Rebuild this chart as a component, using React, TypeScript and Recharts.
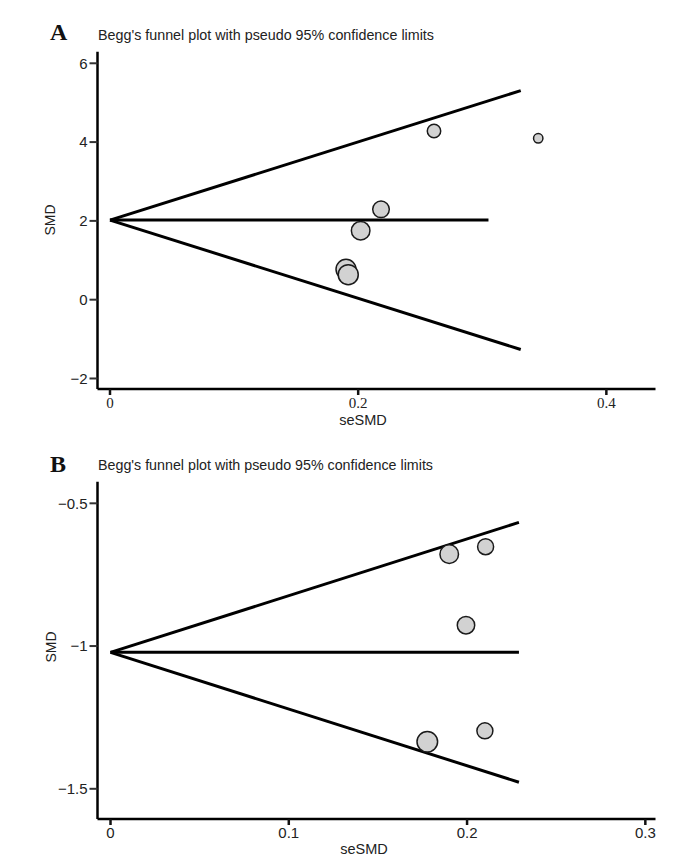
import React from 'react';
import { ScatterChart, Scatter, XAxis, YAxis, ZAxis, ReferenceLine } from 'recharts';

// ---------- Panel A data ----------
const seA = [0.2611, 0.3451, 0.2184, 0.202, 0.1902, 0.192];
const smdA = [4.282, 4.096, 2.294, 1.751, 0.772, 0.635];
const weightA = [45, 22, 69, 86, 100, 100];
const xTicksA = [0, 0.2, 0.4];
const yTicksA = [-2, 0, 2, 4, 6];
const pooledA = 2.02;
const limitSeA = 0.331;
const upperEndA = 5.305;
const lowerEndA = -1.265;
const pooledLineEndA = 0.305;

// ---------- Panel B data ----------
const seB = [0.19, 0.2104, 0.1994, 0.1777, 0.21];
const smdB = [-0.678, -0.652, -0.927, -1.335, -1.297];
const weightB = [86, 64, 76, 106, 64];
const xTicksB = [0, 0.1, 0.2, 0.3];
const yTicksB = [-1.5, -1, -0.5];
const pooledB = -1.022;
const limitSeB = 0.2291;
const upperEndB = -0.567;
const lowerEndB = -1.477;
const pooledLineEndB = 0.2291;

const title = "Begg's funnel plot with pseudo 95% confidence limits";

const SANS = '"Liberation Sans", Arial, sans-serif';
const SERIF = '"Liberation Serif", "Times New Roman", serif';

const fmt = (v: number) => String(v).replace('-', '\u2212');

const dataA = seA.map((s, i) => ({ se: s, smd: smdA[i], w: weightA[i] }));
const dataB = seB.map((s, i) => ({ se: s, smd: smdB[i], w: weightB[i] }));

type PanelProps = {
  data: { se: number; smd: number; w: number }[];
  xDomain: [number, number];
  yDomain: [number, number];
  xTicks: number[];
  yTicks: number[];
  pooled: number;
  limitSe: number;
  upperEnd: number;
  lowerEnd: number;
  pooledEnd: number;
  xFont: string;
  xFontSize: number;
};

const Panel = (p: PanelProps) => (
  <ScatterChart
    width={688}
    height={429}
    margin={{ top: 51.7, right: 32.5, bottom: 10, left: 0 }}
  >
    <XAxis
      type="number"
      dataKey="se"
      domain={p.xDomain}
      ticks={p.xTicks}
      allowDataOverflow
      height={30}
      axisLine={{ stroke: '#000', strokeWidth: 2.5 }}
      tickLine={{ stroke: '#111', strokeWidth: 2.5 }}
      tickSize={6}
      tickMargin={2}
      tick={{ fill: '#222', fontSize: p.xFontSize, fontFamily: p.xFont }}
      tickFormatter={fmt}
    />
    <YAxis
      type="number"
      dataKey="smd"
      domain={p.yDomain}
      ticks={p.yTicks}
      allowDataOverflow
      width={97.5}
      axisLine={{ stroke: '#000', strokeWidth: 2.5 }}
      tickLine={{ stroke: '#333', strokeWidth: 2 }}
      tickSize={8}
      tickMargin={2}
      tick={{ fill: '#222', fontSize: 15, fontFamily: SANS }}
      tickFormatter={fmt}
    />
    <ZAxis type="number" dataKey="w" domain={[0, 120]} range={[0, 120 * Math.PI]} />
    <ReferenceLine
      segment={[{ x: 0, y: p.pooled }, { x: p.limitSe, y: p.upperEnd }]}
      stroke="#000"
      strokeWidth={3}
      ifOverflow="visible"
    />
    <ReferenceLine
      segment={[{ x: 0, y: p.pooled }, { x: p.limitSe, y: p.lowerEnd }]}
      stroke="#000"
      strokeWidth={3}
      ifOverflow="visible"
    />
    <ReferenceLine
      segment={[{ x: 0, y: p.pooled }, { x: p.pooledEnd, y: p.pooled }]}
      stroke="#000"
      strokeWidth={3}
      ifOverflow="visible"
    />
    <Scatter
      data={p.data}
      fill="#d2d2d2"
      stroke="#1a1a1a"
      strokeWidth={1.5}
      isAnimationActive={false}
    />
  </ScatterChart>
);

export default function App() {
  return (
    <div style={{ position: 'absolute', left: 0, top: 0, width: 688, height: 859, background: '#fff' }}>
      <div style={{ position: 'absolute', left: 0, top: 0 }}>
        <Panel
          data={dataA}
          xDomain={[-0.01007, 0.4396]}
          yDomain={[-2.267, 6.294]}
          xTicks={xTicksA}
          yTicks={yTicksA}
          pooled={pooledA}
          limitSe={limitSeA}
          upperEnd={upperEndA}
          lowerEnd={lowerEndA}
          pooledEnd={pooledLineEndA}
          xFont={SERIF}
          xFontSize={15}
        />
      </div>
      <div style={{ position: 'absolute', left: 0, top: 430 }}>
        <Panel
          data={dataB}
          xDomain={[-0.0073, 0.3057]}
          yDomain={[-1.6058, -0.4243]}
          xTicks={xTicksB}
          yTicks={yTicksB}
          pooled={pooledB}
          limitSe={limitSeB}
          upperEnd={upperEndB}
          lowerEnd={lowerEndB}
          pooledEnd={pooledLineEndB}
          xFont={SANS}
          xFontSize={15}
        />
      </div>
      <svg
        width={688}
        height={859}
        style={{ position: 'absolute', left: 0, top: 0, pointerEvents: 'none' }}
      >
        <text x={50} y={40} fontFamily={SERIF} fontWeight="bold" fontSize={24} fill="#111">A</text>
        <text x={98} y={40} fontFamily={SANS} fontSize={15} fill="#222" textLength={336} lengthAdjust="spacingAndGlyphs">{title}</text>
        <text x={55} y={220} fontFamily={SANS} fontSize={14} fill="#222" textAnchor="middle" transform="rotate(-90 55 220)">SMD</text>
        <text x={363} y={425} fontFamily={SANS} fontSize={14.5} fill="#222" textAnchor="middle">seSMD</text>

        <text x={50} y={472} fontFamily={SERIF} fontWeight="bold" fontSize={24} fill="#111">B</text>
        <text x={98} y={470} fontFamily={SANS} fontSize={15} fill="#222" textLength={335} lengthAdjust="spacingAndGlyphs">{title}</text>
        <text x={56} y={647} fontFamily={SANS} fontSize={14} fill="#222" textAnchor="middle" transform="rotate(-90 56 647)">SMD</text>
        <text x={364} y={854} fontFamily={SANS} fontSize={14.5} fill="#222" textAnchor="middle">seSMD</text>
      </svg>
    </div>
  );
}
